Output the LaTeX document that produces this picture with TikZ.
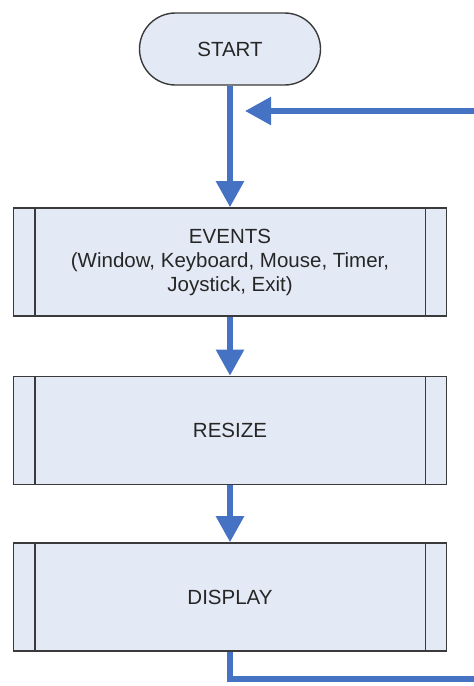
\documentclass[tikz,border=0pt]{standalone}
\usepackage{fontspec}
\setmainfont{Liberation Sans}
\usetikzlibrary{arrows.meta, calc}

\definecolor{flowblue}{RGB}{70,114,196}
\definecolor{boxfill}{RGB}{228,234,245}
\definecolor{boxline}{RGB}{58,58,58}
\definecolor{boxtext}{RGB}{38,38,38}

\tikzset{
  terminal/.style={rectangle, rounded corners=36pt, draw=boxline, fill=boxfill,
    line width=1.4pt, minimum width=181pt, minimum height=72pt, inner sep=0pt,
    text=boxtext, font=\fontsize{20.5}{24}\selectfont},
  process/.style={rectangle, draw=boxline, fill=boxfill, line width=1.6pt,
    minimum width=433pt, minimum height=108pt, inner sep=0pt, align=center,
    text=boxtext, font=\fontsize{20.5}{24}\selectfont},
  flowline/.style={draw=flowblue, line width=5.5pt},
  flow/.style={flowline, -{Triangle[length=26pt, width=27pt]}},
}

\begin{document}
\begin{tikzpicture}[x=1pt, y=-1pt]

%% Parameters
%% column and box positions, can be modified
\def\colX{230}
\def\edgeX{474}
\def\sideGap{22}

\useasboundingbox (0,0) rectangle (474,686);

%% ***Terminal***
\node[terminal] (start) at (\colX, 49) {START};

%% ***Process boxes***
\node[process] (events) at (\colX, 262) {EVENTS\\(Window, Keyboard, Mouse, Timer,\\Joystick, Exit)};
\node[process] (resize) at (\colX, 430.5) {RESIZE};
\node[process] (display) at (\colX, 597) {DISPLAY};

% side bars of the predefined process boxes
\foreach \n in {events, resize, display} {
  \draw[boxline, line width=1.6pt] ([xshift=\sideGap]\n.north west) -- ([xshift=\sideGap]\n.south west);
  \draw[boxline, line width=1.6pt] ([xshift=-\sideGap]\n.north east) -- ([xshift=-\sideGap]\n.south east);
}

%% ***Flow***
\draw[flow] (start.south) -- (events.north);
\draw[flow] (events.south) -- (resize.north);
\draw[flow] (resize.south) -- (display.north);

%% loop back to the event handling
\coordinate (loopin) at (\edgeX, 111);
\coordinate (loopout) at (\edgeX, 679);
\coordinate (loopend) at (\colX+15, 111);
\draw[flowline] (display.south) |- (loopout);
\draw[flow] (loopin) -- (loopend);

\end{tikzpicture}
\end{document}
